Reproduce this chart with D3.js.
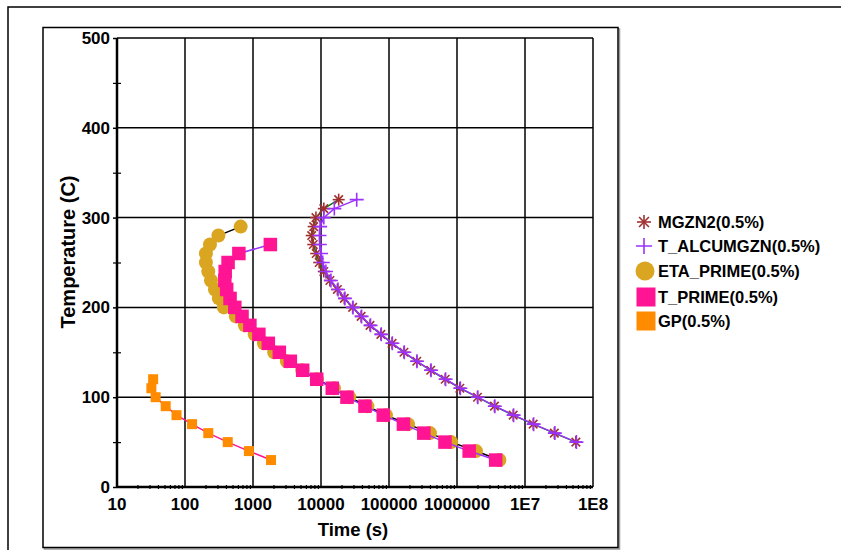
<!DOCTYPE html>
<html><head><meta charset="utf-8">
<script src="https://cdn.jsdelivr.net/npm/d3@7"></script>
<style>
html,body{margin:0;padding:0;background:#fff;}
svg{display:block;}
text{font-family:Arial,"Liberation Sans",sans-serif;font-weight:bold;fill:#000;}
</style></head>
<body>
<svg id="chart" width="841" height="550"></svg>
<script>
// ---- data ----
const xTickValues = [10,100,1000,10000,100000,1000000,1e7,1e8];
const xTickLabels = ["10","100","1000","10000","100000","1000000","1E7","1E8"];
const yTickValues = [0,100,200,300,400,500];

const mgzn2Temp = [320,310,300,290,280,270,260,250,240,230,220,210,200,190,180,170,160,150,140,130,120,110,100,90,80,70,60,50];
const mgzn2Time = [18200,11000,8430,7800,7300,7700,8500,9400,11000,13500,17400,22000,29200,38900,52600,76000,111000,166000,256000,410000,670000,1.1e6,2.0e6,3.55e6,6.7e6,1.32e7,2.7e7,5.6e7];

const alcuTemp = [320,310,300,290,280,270,260,250,240,230,220,210,200,190,180,170,160,150,140,130,120,110,100,90,80,70,60,50];
const alcuTime = [33500,15700,11000,9700,9500,9600,10000,10600,11800,14000,17800,22500,29500,39500,53500,77000,112000,168000,258000,415000,680000,1.12e6,2.02e6,3.6e6,6.8e6,1.34e7,2.75e7,5.7e7];

const etaTemp = [290,280,270,260,250,240,230,220,210,200,190,180,170,160,150,140,130,120,110,100,90,80,70,60,50,40,30];
const etaTime = [659,310,233,203,203,220,241,276,315,373,560,760,1060,1450,2050,3150,5300,8700,15500,26000,48000,90000,190000,400000,820000,1.9e6,4.2e6];

const tprimeTemp = [270,260,250,240,230,220,210,200,190,180,170,160,150,140,130,120,110,100,90,80,70,60,50,40,30];
const tprimeTime = [1800,620,430,390,385,410,460,540,690,900,1220,1680,2440,3540,5380,8650,14650,24100,44300,82400,163000,325000,665000,1.51e6,3.7e6];

const gpTemp = [120,110,100,90,80,70,60,50,40,30];
const gpTime = [34,32,37,52,75,127,220,425,870,1840];

const seriesNames = ["MGZN2(0.5%)","T_ALCUMGZN(0.5%)","ETA_PRIME(0.5%)","T_PRIME(0.5%)","GP(0.5%)"];

// ---- drawing ----
const svg = d3.select("#chart");
const x = d3.scaleLog().domain([10,1e8]).range([117,593]);
const y = d3.scaleLinear().domain([0,500]).range([487,38]);

// outer frame and inner box
svg.append("rect").attr("x",8).attr("y",7).attr("width",850).attr("height",560)
  .attr("fill","none").attr("stroke","#000").attr("stroke-width",1.5);
svg.append("rect").attr("x",44.5).attr("y",29).attr("width",575).attr("height",520)
  .attr("fill","none").attr("stroke","#999").attr("stroke-width",1.5);
svg.append("rect").attr("x",43).attr("y",27.5).attr("width",575).attr("height",520)
  .attr("fill","#fff").attr("stroke","#000").attr("stroke-width",1.5);

// grid
const g = svg.append("g");
g.selectAll(".vg").data(xTickValues).join("line")
  .attr("x1",d=>x(d)).attr("x2",d=>x(d)).attr("y1",y(0)).attr("y2",y(500))
  .attr("stroke","#000").attr("stroke-width",1.5);
g.selectAll(".hg").data(yTickValues).join("line")
  .attr("x1",x(10)).attr("x2",x(1e8)).attr("y1",d=>y(d)).attr("y2",d=>y(d))
  .attr("stroke","#000").attr("stroke-width",1.5);

// axes with d3 axis generators
const minorX = [];
for (let e=1;e<8;e++) for (let m=2;m<10;m++) minorX.push(m*Math.pow(10,e));
const xAxis = d3.axisBottom(x).tickValues(minorX).tickSize(4).tickFormat("");
svg.append("g").attr("transform",`translate(0,${y(0)-2})`).call(xAxis)
  .call(s=>{s.select(".domain").remove(); s.selectAll("line").attr("stroke","#000").attr("stroke-width",1.2);});
const yMinor = d3.axisLeft(y).tickValues([50,150,250,350,450]).tickSize(8).tickFormat("");
svg.append("g").attr("transform",`translate(${x(10)+4},0)`).call(yMinor)
  .call(s=>{s.select(".domain").remove(); s.selectAll("line").attr("stroke","#000").attr("stroke-width",1.2);});
const yMajor = d3.axisLeft(y).tickValues(yTickValues).tickSize(4).tickFormat("");
svg.append("g").attr("transform",`translate(${x(10)},0)`).call(yMajor)
  .call(s=>{s.select(".domain").remove(); s.selectAll("line").attr("stroke","#000").attr("stroke-width",1.5);});

// axis lines
svg.append("line").attr("x1",x(10)).attr("x2",x(10)).attr("y1",y(0)).attr("y2",y(500)).attr("stroke","#000").attr("stroke-width",2.5);
svg.append("line").attr("x1",x(10)).attr("x2",x(1e8)).attr("y1",y(0)).attr("y2",y(0)).attr("stroke","#000").attr("stroke-width",2.5);

// tick labels
svg.selectAll(".xl").data(xTickValues).join("text")
  .attr("x",d=>x(d)).attr("y",510).attr("text-anchor","middle").attr("font-size",17)
  .text((d,i)=>xTickLabels[i]);
svg.selectAll(".yl").data(yTickValues).join("text")
  .attr("x",110).attr("y",d=>y(d)+6).attr("text-anchor","end").attr("font-size",17)
  .text(d=>d);

svg.append("text").attr("x",353).attr("y",536).attr("text-anchor","middle").attr("font-size",18.5).text("Time (s)");
svg.append("text").attr("transform","translate(75,252) rotate(-90)").attr("text-anchor","middle").attr("font-size",20).text("Temperature (C)");

// marker helpers
function asterisk(sel, cx, cy, r, color){
  const a = sel.append("g").attr("transform",`translate(${cx},${cy})`);
  for (let k=0;k<4;k++){
    const ang = k*Math.PI/4;
    a.append("line").attr("x1",-r*Math.cos(ang)).attr("y1",-r*Math.sin(ang))
      .attr("x2",r*Math.cos(ang)).attr("y2",r*Math.sin(ang))
      .attr("stroke",color).attr("stroke-width",1.6);
  }
}
function plus(sel, cx, cy, r, color){
  sel.append("path").attr("d",`M${cx-r},${cy}H${cx+r}M${cx},${cy-r}V${cy+r}`)
    .attr("stroke",color).attr("stroke-width",1.6).attr("fill","none");
}
function circle(sel,cx,cy,r,color){
  sel.append("circle").attr("cx",cx).attr("cy",cy).attr("r",r).attr("fill",color);
}
function square(sel,cx,cy,s,color){
  sel.append("rect").attr("x",cx-s/2).attr("y",cy-s/2).attr("width",s).attr("height",s).attr("fill",color);
}

const line = d3.line().x(d=>x(d[0])).y(d=>y(d[1]));
const series = [
  {times:mgzn2Time, temps:mgzn2Temp, lineColor:"#0a7a0a", marker:(s,cx,cy)=>asterisk(s,cx,cy,6,"#a03030")},
  {times:alcuTime, temps:alcuTemp, lineColor:"#9b30ff", marker:(s,cx,cy)=>plus(s,cx,cy,7,"#9b30ff")},
  {times:etaTime, temps:etaTemp, lineColor:"#000", marker:(s,cx,cy)=>circle(s,cx,cy,7,"#daa520")},
  {times:tprimeTime, temps:tprimeTemp, lineColor:"#9b30ff", marker:(s,cx,cy)=>square(s,cx,cy,13.5,"#ff1493")},
  {times:gpTime, temps:gpTemp, lineColor:"#ff1493", marker:(s,cx,cy)=>square(s,cx,cy,10,"#ff8c00")}
];
series.forEach(s=>{
  const pts = s.times.map((t,i)=>[t,s.temps[i]]);
  const gg = svg.append("g");
  gg.append("path").attr("d",line(pts)).attr("fill","none").attr("stroke",s.lineColor).attr("stroke-width",1.5);
  pts.forEach(p=>s.marker(gg,x(p[0]),y(p[1])));
});

// legend
const legY = [222,246,271,297,321];
const lg = svg.append("g");
asterisk(lg,644,legY[0],7,"#a03030");
plus(lg,644,legY[1],8,"#9b30ff");
circle(lg,645,legY[2],9.5,"#daa520");
square(lg,646,legY[3],19,"#ff1493");
square(lg,646,legY[4],19,"#ff8c00");
lg.selectAll("text").data(seriesNames).join("text")
  .attr("x",658).attr("y",(d,i)=>legY[i]+6).attr("font-size",16.5).text(d=>d);
</script>
</body></html>
